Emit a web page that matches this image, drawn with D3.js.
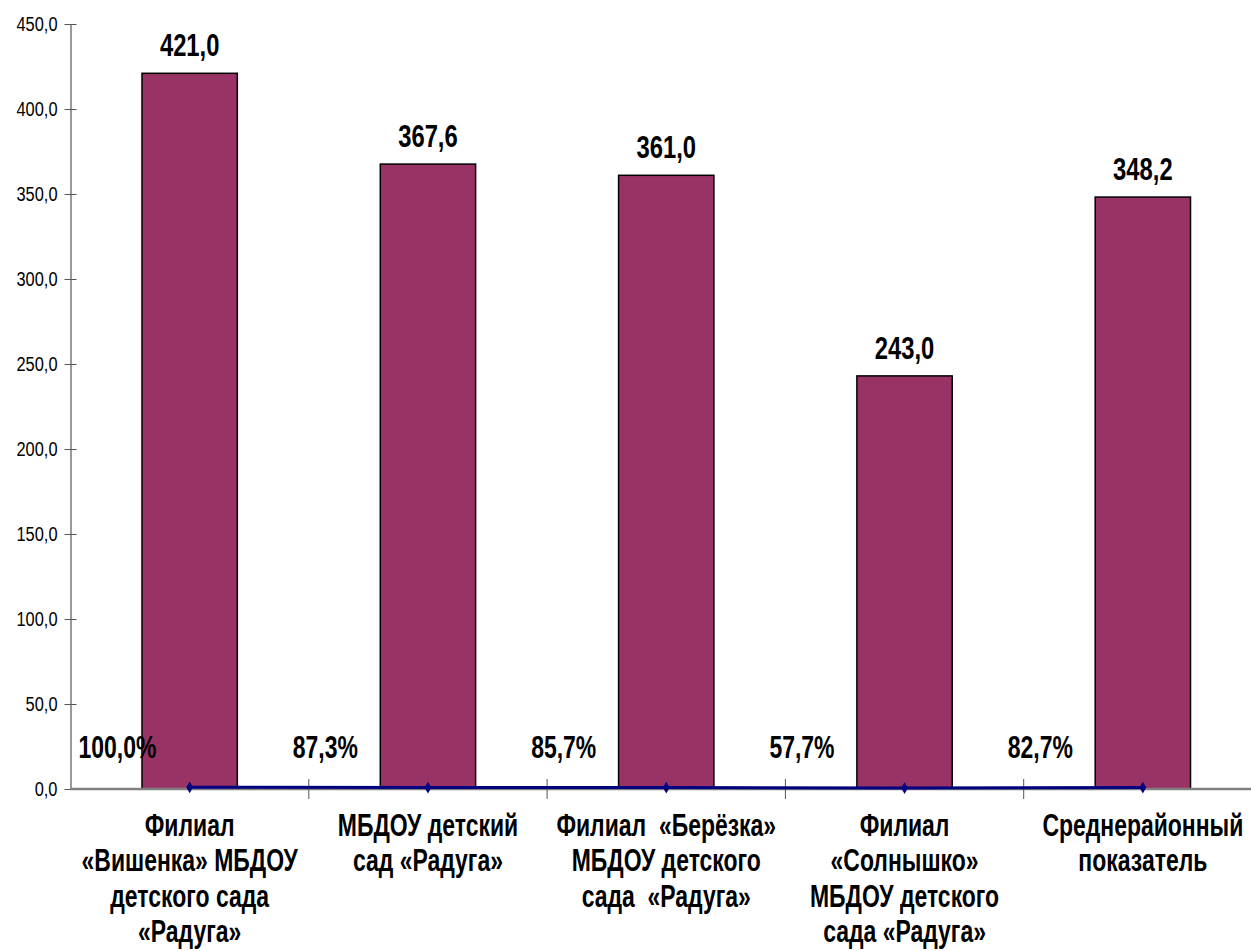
<!DOCTYPE html>
<html>
<head>
<meta charset="utf-8">
<script src="https://cdn.jsdelivr.net/npm/d3@7"></script>
<style>
    body { margin: 0; background: #ffffff; }
    svg text { font-family: "Liberation Sans Narrow", "Arial Narrow", "Liberation Sans", Arial, sans-serif; }
</style>
</head>
<body>
<div id="chart"></div>
<script>
// Categories (one label line per array item)
const categories = [
    ['Филиал', '«Вишенка» МБДОУ', 'детского сада', '«Радуга»'],
    ['МБДОУ детский', 'сад «Радуга»'],
    ['Филиал  «Берёзка»', 'МБДОУ детского', 'сада  «Радуга»'],
    ['Филиал', '«Солнышко»', 'МБДОУ детского', 'сада «Радуга»'],
    ['Среднерайонный', 'показатель']
];

// Bar series values
const barValues = [421.0, 367.6, 361.0, 243.0, 348.2];

// Line series values (share, plotted on the same axis)
const lineValues = [1.000, 0.873, 0.857, 0.577, 0.827];

// Y axis ticks
const yTicks = [0, 50, 100, 150, 200, 250, 300, 350, 400, 450];

const W = 1251, H = 951;
const margin = { top: 24, left: 70.5, bottom: 162 };
const plotRight = 1262;
// Arial Narrow look (no narrow font installed), text a bit taller like the original
const sx = 0.82, sy = 1.1;

const svg = d3.select('#chart')
    .append('svg')
    .attr('width', W)
    .attr('height', H);

const idx = categories.map((d, i) => i);

const xScale = d3.scaleBand()
    .domain(idx)
    .range([margin.left, plotRight])
    .paddingInner(0)
    .paddingOuter(0);

const yScale = d3.scaleLinear()
    .domain([0, 450])
    .range([H - margin.bottom, margin.top]);

const fmt = v => v.toFixed(1).replace('.', ',');
const pct = v => (v * 100).toFixed(1).replace('.', ',') + '%';

// Y axis
const yAxis = d3.axisLeft(yScale)
    .tickValues(yTicks)
    .tickFormat(fmt)
    .tickSizeInner(6)
    .tickSizeOuter(0)
    .tickPadding(8);

const yG = svg.append('g')
    .attr('transform', `translate(${margin.left},0)`)
    .call(yAxis);
yG.select('.domain').attr('stroke', '#555').attr('stroke-width', 1.2);
yG.selectAll('.tick line').attr('stroke', '#555').attr('x2', 6).attr('x1', -6);
yG.selectAll('.tick text')
    .attr('x', 0)
    .attr('transform', `translate(-13,0) scale(${sx},1.05)`)
    .style('font-size', '20px')
    .attr('fill', '#000');

// Bars
const barW = xScale.bandwidth() * 0.4;
const cx = i => xScale(i) + xScale.bandwidth() / 2;

svg.append('g')
    .selectAll('rect')
    .data(barValues)
    .enter()
    .append('rect')
    .attr('x', (d, i) => cx(i) - barW / 2)
    .attr('y', d => yScale(d))
    .attr('width', barW)
    .attr('height', d => yScale(0) - yScale(d))
    .style('fill', '#993366')
    .style('stroke', '#000')
    .style('stroke-width', 1.5);

// X axis line and ticks
const xG = svg.append('g');
xG.append('line')
    .attr('x1', margin.left)
    .attr('x2', W)
    .attr('y1', yScale(0))
    .attr('y2', yScale(0))
    .attr('stroke', '#808080')
    .attr('stroke-width', 2.5);

xG.selectAll('.xtick')
    .data(idx.slice(1).concat([idx.length]))
    .enter()
    .append('line')
    .attr('class', 'xtick')
    .attr('x1', d => margin.left + d * xScale.bandwidth())
    .attr('x2', d => margin.left + d * xScale.bandwidth())
    .attr('y1', yScale(0) - 10)
    .attr('y2', yScale(0) + 10)
    .attr('stroke', '#555')
    .attr('stroke-width', 1);

// Bar value labels
svg.append('g')
    .selectAll('text')
    .data(barValues)
    .enter()
    .append('text')
    .attr('transform', (d, i) => `translate(${cx(i)},${yScale(d) - 17}) scale(${sx},${sy})`)
    .attr('text-anchor', 'middle')
    .style('font-size', '29px')
    .style('font-weight', 'bold')
    .text(fmt);

// Line series
const line = d3.line()
    .x((d, i) => cx(i))
    .y(d => yScale(d));

svg.append('path')
    .datum(lineValues)
    .attr('d', line)
    .attr('fill', 'none')
    .attr('stroke', '#000080')
    .attr('stroke-width', 3);

svg.append('g')
    .selectAll('path')
    .data(lineValues)
    .enter()
    .append('path')
    .attr('d', d3.symbol(d3.symbolDiamond, 40))
    .attr('transform', (d, i) => `translate(${cx(i)},${yScale(d)})`)
    .attr('fill', '#000080');

// Line value labels (left of points, kept inside the plot)
svg.append('g')
    .selectAll('text')
    .data(lineValues)
    .enter()
    .append('text')
    .style('font-size', '28px')
    .style('font-weight', 'bold')
    .text(pct)
    .each(function(d, i) {
        const w = this.getComputedTextLength() * sx;
        const left = Math.max(cx(i) - 70 - w, margin.left + 8);
        d3.select(this).attr('transform', `translate(${left},${yScale(0) - 31}) scale(${sx},${sy})`);
    });

// Category labels
const catG = svg.append('g')
    .selectAll('text')
    .data(categories)
    .enter()
    .append('text')
    .attr('text-anchor', 'middle')
    .attr('transform', (d, i) => `translate(${cx(i)},836) scale(${sx},${sy})`)
    .style('font-size', '28px')
    .style('font-weight', 'bold');

catG.selectAll('tspan')
    .data(d => d)
    .enter()
    .append('tspan')
    .attr('x', 0)
    .attr('y', (d, j) => j * 35.3 / sy)
    .style('white-space', 'pre')
    .text(d => d);
</script>
</body>
</html>
